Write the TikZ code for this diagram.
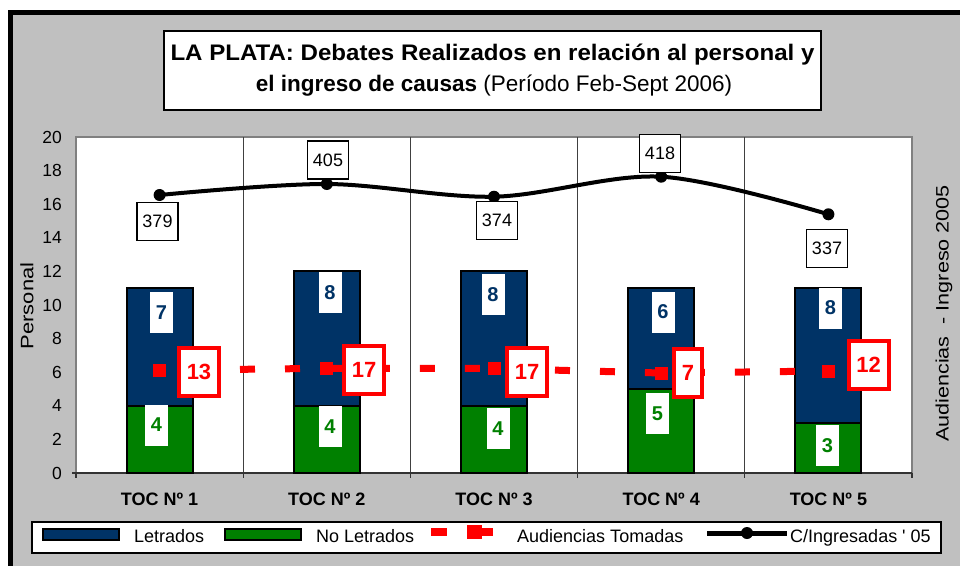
\documentclass[tikz,border=0pt]{standalone}
\usepackage{fontspec}
\setmainfont{Liberation Sans}
\usepackage{xcolor}
\definecolor{letblue}{HTML}{003366}
\definecolor{noletgreen}{HTML}{008000}
\definecolor{chartgray}{HTML}{C0C0C0}

\begin{document}
\begin{tikzpicture}[x=1pt, y=-1pt,
  barlbl/.style={fill=white, inner sep=0pt, minimum width=23pt, minimum height=41pt,
    font=\fontsize{20}{20}\selectfont\bfseries},
  audlbl/.style={draw=red, line width=4pt, fill=white, inner sep=0pt, minimum width=40pt,
    minimum height=48pt, text=red, font=\fontsize{22}{22}\selectfont\bfseries},
  inglbl/.style={draw=black, line width=1.5pt, fill=white, inner sep=0pt, minimum width=41pt,
    minimum height=38pt, font=\fontsize{18}{18}\selectfont},
  audmark/.style={fill=red, inner sep=0pt, minimum size=13pt},
  ticklbl/.style={anchor=east, inner sep=0pt, font=\fontsize{17.5}{17.5}\selectfont},
  toclbl/.style={inner sep=0pt, font=\fontsize{18}{18}\selectfont\bfseries},
  legtxt/.style={anchor=base west, inner sep=0pt, font=\fontsize{18}{18}\selectfont}]

  \useasboundingbox (0,0) rectangle (960,565);
  \clip (0,0) rectangle (960,565);

  % Chart area with thick black frame
  \fill[white] (0,0) rectangle (960,565);
  \filldraw[fill=chartgray, draw=black, line width=5pt] (10.5,12.5) rectangle (975,580);

  % Title
  \node[draw, line width=2pt, fill=white, minimum width=657pt, minimum height=79pt, inner sep=0pt]
    (titlebox) at (492.5,70.5) {};
  \node[anchor=base, inner sep=0pt, font=\fontsize{22.5}{22.5}\selectfont\bfseries] (title1)
    at (492.5,60) {\scalebox{1.07}[1]{LA PLATA: Debates Realizados en relación al personal y}};
  \node[anchor=base, inner sep=0pt, font=\fontsize{22.5}{22.5}\selectfont] (title2)
    at (494,91) {\bfseries el ingreso de causas \mdseries(Período Feb-Sept 2006)};

  % Plot area, grid and axis
  \filldraw[fill=white, draw=black!50, line width=1.5pt] (76,137) rectangle (912,473);
  \foreach \k in {1,...,4}
    \draw[black!75, line width=0.8pt] ({76+167.2*\k},137) -- ({76+167.2*\k},478);
  \draw[black!80, line width=1.5pt] (72,473) -- (912,473);
  \foreach \k in {0,...,5}
    \draw[black!80, line width=1.2pt] ({76+167.2*\k},473) -- ++(0,5);
  \foreach \v in {0,2,...,20}
    \node[ticklbl] (tick\v) at (62,{473-16.8*\v}) {\v};

  % Axis titles
  \node[inner sep=0pt, font=\fontsize{18}{18}\selectfont] (ytitle) at (27,306)
    {\rotatebox{90}{\scalebox{1.22}[1]{Personal}}};
  \node[inner sep=0pt, font=\fontsize{18}{18}\selectfont] (y2title) at (944,313.5)
    {\rotatebox{90}{\scalebox{1.2}[1]{Audiencias~~- Ingreso 2005}}};

  % Stacked bars: No Letrados (bottom) and Letrados (top)
  \foreach \i/\nl/\l in {1/4/7, 2/4/8, 3/4/8, 4/5/6, 5/3/8} {
    \pgfmathsetmacro\cx{76+167.2*(\i-0.5)}
    \filldraw[fill=noletgreen, draw=black, line width=2pt]
      ({\cx-33},473) rectangle ({\cx+33},{473-16.8*\nl});
    \filldraw[fill=letblue, draw=black, line width=2pt]
      ({\cx-33},{473-16.8*\nl}) rectangle ({\cx+33},{473-16.8*(\nl+\l)});
    \node[toclbl] (toc\i) at (\cx,499.5) {TOC Nº \i};
  }

  % Series points
  \coordinate (ing1) at (159.6,195);
  \coordinate (ing2) at (326.8,184);
  \coordinate (ing3) at (494,196.7);
  \coordinate (ing4) at (661.2,176.7);
  \coordinate (ing5) at (828.4,214.3);
  \coordinate (aud1) at (159.6,370.3);
  \coordinate (aud2) at (326.8,368.3);
  \coordinate (aud3) at (494,368.5);
  \coordinate (aud4) at (661.2,373);
  \coordinate (aud5) at (828.4,371);

  % Audiencias Tomadas
  \draw[red, line width=7pt, dash pattern=on 15pt off 30pt, dash phase=9.6pt]
    (aud1) -- (aud2) -- (aud3) -- (aud4) -- (aud5);
  \foreach \i in {1,...,5}
    \node[audmark] (audm\i) at (aud\i) {};

  % C/Ingresadas '05
  \draw[line width=4pt] plot[smooth, tension=0.55] coordinates {(ing1) (ing2) (ing3) (ing4) (ing5)};
  \foreach \i in {1,...,5}
    \fill (ing\i) circle (6);

  % Bar value labels
  \node[barlbl, text=letblue] (let1) at (161.5,312.5) {7};
  \node[barlbl, text=letblue] (let2) at (330,292.5) {8};
  \node[barlbl, text=letblue] (let3) at (493,294.5) {8};
  \node[barlbl, text=letblue] (let4) at (663,312) {6};
  \node[barlbl, text=letblue] (let5) at (830.5,308) {8};
  \node[barlbl, text=noletgreen] (nolet1) at (156.5,425) {4};
  \node[barlbl, text=noletgreen] (nolet2) at (330,426.5) {4};
  \node[barlbl, text=noletgreen] (nolet3) at (498,428.5) {4};
  \node[barlbl, text=noletgreen] (nolet4) at (657.5,413.5) {5};
  \node[barlbl, text=noletgreen] (nolet5) at (827.5,445.5) {3};

  % Audiencias labels
  \node[audlbl] (audlbl1) at (199,372) {13};
  \node[audlbl] (audlbl2) at (364,370) {17};
  \node[audlbl] (audlbl3) at (527,371.5) {17};
  \node[audlbl, minimum width=28pt] (audlbl4) at (688,373) {7};
  \node[audlbl] (audlbl5) at (868.5,365) {12};

  % Ingreso labels
  \node[inglbl] (inglbl1) at (157.5,221.3) {379};
  \node[inglbl] (inglbl2) at (328,160) {405};
  \node[inglbl] (inglbl3) at (497,220.5) {374};
  \node[inglbl] (inglbl4) at (660,153.5) {418};
  \node[inglbl] (inglbl5) at (827,248.5) {337};

  % Legend
  \node[draw, line width=2pt, fill=white, minimum width=909pt, minimum height=31pt, inner sep=0pt]
    (legbox) at (486.5,537.5) {};
  \filldraw[fill=letblue, draw=black, line width=2pt] (43,529) rectangle (119,540);
  \node[legtxt] (legLet) at (134,542.5) {Letrados};
  \filldraw[fill=noletgreen, draw=black, line width=2pt] (225,529) rectangle (301,540);
  \node[legtxt] (legNoLet) at (316,542.5) {No Letrados};
  \draw[red, line width=8pt] (431,532) -- (447,532) (480,532) -- (493,532);
  \fill[red] (467,525) rectangle (482,539);
  \node[legtxt] (legAud) at (517,542.5) {Audiencias Tomadas};
  \draw[line width=5pt] (707,533) -- (787,533);
  \fill (747,533) circle (6);
  \node[legtxt] (legIng) at (790,542.5) {C/Ingresadas \textquotesingle\ 05};
\end{tikzpicture}
\end{document}
